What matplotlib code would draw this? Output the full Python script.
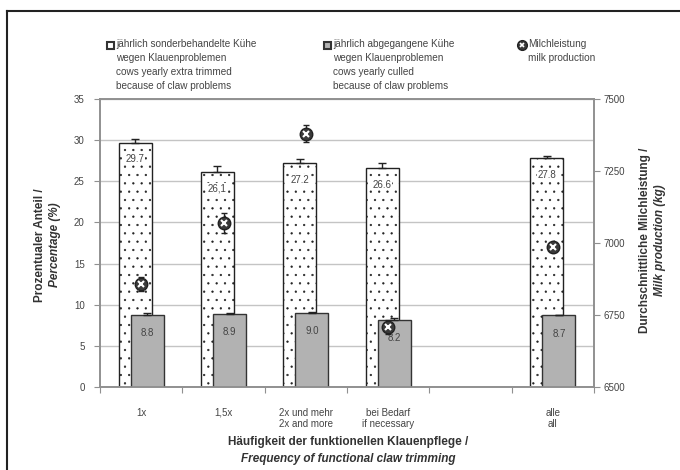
import numpy as np
import matplotlib
matplotlib.use("Agg")
import matplotlib.pyplot as plt
from matplotlib.lines import Line2D
from matplotlib.patches import Rectangle

plt.rcParams['font.family'] = ['Liberation Sans', 'DejaVu Sans']
plt.rcParams['hatch.linewidth'] = 0.4
plt.rcParams['hatch.color'] = '#555555'

# data (empty slot between "bei Bedarf" and "alle")
categories = ['1x', '1,5x', '2x und mehr\n2x and more', 'bei Bedarf\nif necessary', '', 'alle\nall']
extra_trimmed = [29.7, 26.1, 27.2, 26.6, np.nan, 27.8]
extra_trimmed_err = [0.4, 0.7, 0.5, 0.6, np.nan, 0.3]
extra_labels = ['29.7', '26,1', '27.2', '26.6', '', '27.8']
culled = [8.8, 8.9, 9.0, 8.2, np.nan, 8.7]
culled_err = [0.15, 0.15, 0.15, 0.15, np.nan, 0.1]
culled_labels = ['8.8', '8.9', '9.0', '8.2', '', '8.7']
milk = [6858, 7068, 7380, 6708, np.nan, 6985]
milk_err = [25, 35, 30, 25, np.nan, 15]

W, H = 680, 470
fig = plt.figure(figsize=(W / 100, H / 100), dpi=100)
ax = fig.add_axes([100 / W, 1 - 387 / H, 494 / W, 288 / H])
ax2 = ax.twinx()

x = np.arange(len(categories))
bw = 0.40
off = 0.073
grey_txt = '#444444'

ax.set_axisbelow(True)
ax.yaxis.grid(True, color='#c4c4c4', linewidth=1)
ax.bar(x - off, extra_trimmed, bw, color='white', edgecolor='#222222', hatch='..', linewidth=1.0, zorder=2)
ax.errorbar(x - off, extra_trimmed, yerr=[np.zeros(len(x)), extra_trimmed_err], fmt='none',
            ecolor='#222222', elinewidth=1, capsize=3, zorder=3)
ax.bar(x + off, culled, bw, color='#b2b2b2', edgecolor='#333333', linewidth=1.0, zorder=4)
ax.errorbar(x + off, culled, yerr=[np.zeros(len(x)), culled_err], fmt='none',
            ecolor='#222222', elinewidth=1, capsize=3, zorder=5)

for i in range(len(x)):
    if extra_labels[i]:
        ax.text(x[i] - off, extra_trimmed[i] - 2.0, extra_labels[i], ha='center', va='center',
                fontsize=7, color=grey_txt, zorder=6,
                bbox=dict(facecolor='white', edgecolor='none', pad=0.5))
    if culled_labels[i]:
        ax.text(x[i] + off, culled[i] - 2.2, culled_labels[i], ha='center', va='center',
                fontsize=7, color=grey_txt, zorder=6)

ax.set_ylim(0, 35)
ax.set_yticks(np.arange(0, 36, 5))
ax.set_xlim(-0.5, len(categories) - 0.5)
ax.set_xticks(np.arange(-0.5, len(categories), 1))
ax.set_xticklabels([])
ax.set_xticks(x, minor=True)
ax.set_xticklabels(categories, minor=True, fontsize=7, color=grey_txt)
ax.tick_params(axis='x', which='minor', length=0, pad=15)
ax.tick_params(axis='x', which='major', length=4, color='#909090')
ax.tick_params(axis='y', labelsize=7, labelcolor=grey_txt, color='#909090', length=4, pad=7)

ax2.errorbar(x, milk, yerr=milk_err, fmt='none', ecolor='#222222', elinewidth=1, capsize=2.5, zorder=7)
ax2.plot(x, milk, 'o', markersize=9, markerfacecolor='#3a3a3a', markeredgecolor='#222222', zorder=8)
ax2.plot(x, milk, 'x', markersize=4.5, markeredgecolor='white', markeredgewidth=1.5, zorder=9)
ax2.set_ylim(6500, 7500)
ax2.set_yticks([6500, 6750, 7000, 7250, 7500])
ax2.tick_params(axis='y', labelsize=7, labelcolor=grey_txt, color='#909090', length=4, pad=3)

for a in (ax, ax2):
    for s in a.spines.values():
        s.set_color('#909090')
        s.set_linewidth(1.2)

# axis titles
fig.text(40 / W, 1 - 245 / H, 'Prozentualer Anteil /', rotation=90, ha='center', va='center',
         fontsize=8.5, fontweight='bold', color='#333333')
fig.text(55 / W, 1 - 245 / H, 'Percentage (%)', rotation=90, ha='center', va='center',
         fontsize=8.5, fontweight='bold', style='italic', color='#333333')
fig.text(645 / W, 1 - 240 / H, 'Durchschnittliche Milchleistung /', rotation=90, ha='center', va='center',
         fontsize=8.5, fontweight='bold', color='#333333')
fig.text(660 / W, 1 - 240 / H, 'Milk production (kg)', rotation=90, ha='center', va='center',
         fontsize=8.5, fontweight='bold', style='italic', color='#333333')
fig.text(348 / W, 1 - 442 / H, 'Häufigkeit der funktionellen Klauenpflege /', ha='center', va='center',
         fontsize=8.5, fontweight='bold', color='#333333')
fig.text(348 / W, 1 - 459 / H, 'Frequency of functional claw trimming', ha='center', va='center',
         fontsize=8.5, fontweight='bold', style='italic', color='#333333')

# legend, drawn by hand
leg_lines = [
    (116, 'jährlich sonderbehandelte Kühe\nwegen Klauenproblemen\ncows yearly extra trimmed\nbecause of claw problems'),
    (333, 'jährlich abgegangene Kühe\nwegen Klauenproblemen\ncows yearly culled\nbecause of claw problems'),
    (528, 'Milchleistung\nmilk production'),
]
for lx, txt in leg_lines:
    fig.text(lx / W, 1 - 39 / H, txt, ha='left', va='top', fontsize=7.2, color=grey_txt, linespacing=1.5)
fig.add_artist(Rectangle((107 / W, 1 - 49 / H), 7 / W, 7 / H, transform=fig.transFigure,
                         facecolor='white', edgecolor='#333333', linewidth=1.5))
fig.add_artist(Rectangle((324 / W, 1 - 49 / H), 7 / W, 7 / H, transform=fig.transFigure,
                         facecolor='#b2b2b2', edgecolor='#333333', linewidth=1.5))
fig.add_artist(Line2D([522 / W], [1 - 45 / H], marker='o', markersize=7, markerfacecolor='#3a3a3a',
                      markeredgecolor='#222222', transform=fig.transFigure))
fig.add_artist(Line2D([522 / W], [1 - 45 / H], marker='x', markersize=3.5, markeredgecolor='white',
                      markeredgewidth=1.2, transform=fig.transFigure))

# frame of the picture (left and top only)
fig.add_artist(Line2D([7 / W, 7 / W], [0, 1 - 11 / H], color='#222222', linewidth=1.5, transform=fig.transFigure))
fig.add_artist(Line2D([7 / W, 1], [1 - 11 / H, 1 - 11 / H], color='#222222', linewidth=1.5, transform=fig.transFigure))

fig.savefig('out.png', dpi=100)
